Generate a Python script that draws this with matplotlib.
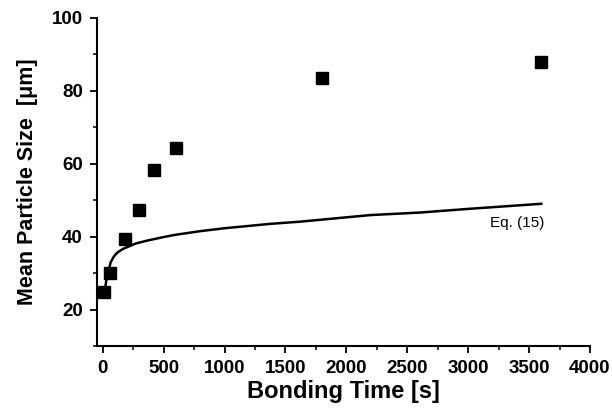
import os
import matplotlib
matplotlib.use("Agg")
import matplotlib.pyplot as plt
from matplotlib import font_manager
from matplotlib.ticker import MultipleLocator

# Measured data
time_s = [10, 60, 180, 300, 420, 600, 1800, 3600]
size_um = [24.9, 30.0, 39.3, 47.2, 58.3, 64.2, 83.4, 87.9]

# Eq. (15) curve
curve_t = [10, 22, 30, 49, 65, 90, 110, 131, 170, 213, 270, 350, 487, 596,
           800, 1000, 1375, 1621, 2194, 2604, 3000, 3600]
curve_y = [25.0, 26.4, 28.2, 30.9, 33.0, 34.5, 35.3, 35.9, 36.7, 37.3, 38.1,
           38.8, 39.8, 40.5, 41.5, 42.3, 43.5, 44.1, 45.9, 46.6, 47.6, 49.0]

x_label = "Bonding Time [s]"
y_label = "Mean Particle Size  [μm]"
curve_label = "Eq. (15)"


def find_font(basename):
    for f in font_manager.fontManager.ttflist:
        if os.path.basename(f.fname) == basename:
            return f.fname
    return None


bold_path = find_font("LiberationSans-Bold.ttf")
reg_path = find_font("LiberationSans-Regular.ttf")


def fp(size, bold=True):
    path = bold_path if bold else reg_path
    if path:
        return font_manager.FontProperties(fname=path, size=size)
    return font_manager.FontProperties(family='Liberation Sans',
                                       weight='bold' if bold else 'normal',
                                       size=size)


fig = plt.figure(figsize=(6.12, 4.12), dpi=100)
ax = fig.add_axes([0.158, 0.160, 0.806, 0.797])

ax.plot(curve_t, curve_y, color='black', lw=1.8, zorder=2)
ax.plot(time_s, size_um, 's', color='black', ms=9, zorder=3)

ax.text(3400, 43.8, curve_label, fontproperties=fp(11, bold=False),
        ha='center', va='center')

ax.set_xlim(-50, 4000)
ax.set_ylim(10, 100)
ax.xaxis.set_major_locator(MultipleLocator(500))
ax.xaxis.set_minor_locator(MultipleLocator(250))
ax.yaxis.set_minor_locator(MultipleLocator(10))
ax.set_yticks([20, 40, 60, 80, 100])

for s in ['top', 'right']:
    ax.spines[s].set_visible(False)
for s in ['left', 'bottom']:
    ax.spines[s].set_linewidth(1.5)

ax.tick_params(which='major', direction='out', length=5, width=1.3, pad=5)
ax.tick_params(which='minor', direction='out', length=3, width=1.1)
for lab in ax.get_xticklabels() + ax.get_yticklabels():
    lab.set_fontproperties(fp(13.5))

ax.set_xlabel(x_label, fontproperties=fp(17), labelpad=2)
ax.set_ylabel(y_label, fontproperties=fp(15.5), labelpad=10)

fig.savefig("out.png", dpi=100)
